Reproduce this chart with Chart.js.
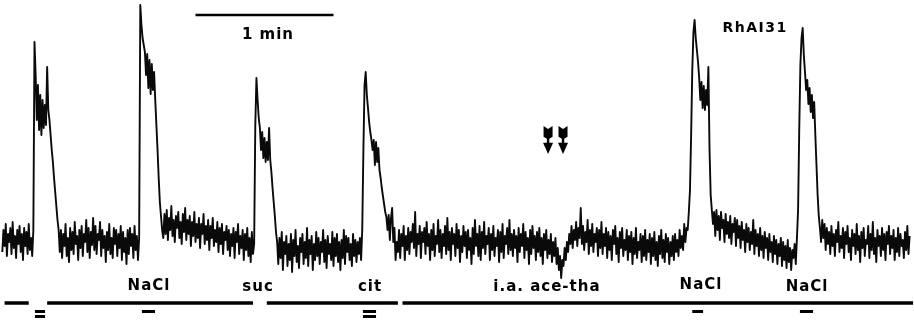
<!DOCTYPE html>
<html>
<head>
<meta charset="utf-8">
<title>RhAI31 - réponse nerveuse</title>
<script src="https://cdn.jsdelivr.net/npm/chart.js@4.4.1/dist/chart.umd.min.js"></script>
<style>
  html, body { margin: 0; padding: 0; background: #fff; }
  #wrap { position: relative; width: 914px; height: 323px; }
</style>
</head>
<body>
<div id="wrap"><canvas id="traceChart"></canvas></div>
<script>
// === DONNEES ===
// trace echantillonnee toutes les 0,5 s, a partir de t = 1 s (unites arbitraires)
const sampleSec = 0.5;
const traceStart = 1;

const restA = [48, 70, 54, 76, 44, 66, 58, 72, 46, 78, 52, 64, 42, 70, 56, 74, 48, 66, 40, 72,
               54, 68, 46, 76, 50, 62, 44, 70];
const nacl1 = [258, 225, 180, 215, 170, 205, 165, 200, 172, 195, 175, 233, 190, 180, 165, 150,
               138, 122, 108, 94, 80, 70];
const restB = [48, 70, 42, 66, 54, 76, 44, 62, 38, 72, 50, 68, 46, 78, 56, 64, 40, 70, 52, 74,
               44, 66, 58, 80, 48, 72, 42, 68, 55, 82, 50, 74, 46, 66, 60, 78, 44, 70, 52, 64,
               38, 68, 50, 76, 46, 62, 42, 72, 56, 70, 44, 66, 52, 74, 40, 68, 48, 62, 36, 70,
               46, 72, 54, 66, 42, 74, 50, 64, 40, 62];
const nacl2 = [295, 275, 262, 255, 248, 225, 246, 212, 240, 206, 236, 210, 228, 200, 175, 150,
               122, 98, 84, 70];
const restC = [62, 86, 66, 90, 60, 82, 70, 94, 64, 80, 58, 84, 72, 88, 62, 78, 56, 86, 68, 92,
               60, 80, 66, 84, 54, 78, 64, 88, 58, 76, 62, 82, 52, 76, 66, 86, 56, 74, 60, 80,
               50, 74, 62, 82, 54, 70, 58, 78, 48, 72, 56, 76, 46, 68, 60, 74, 50, 70, 44, 66,
               54, 72, 42, 68, 58, 76, 46, 64, 52, 70, 40, 66, 50, 72, 44, 62, 38, 68, 46, 56];
const suc = [175, 222, 200, 182, 172, 150, 168, 142, 162, 138, 158, 140, 172, 140, 128, 112,
             98, 84, 68, 58];
const restD = [36, 62, 42, 68, 30, 58, 46, 64, 34, 56, 40, 66, 28, 60, 44, 70, 38, 54, 32, 62,
               48, 66, 36, 58, 42, 72, 34, 60, 46, 64, 30, 56, 40, 68, 44, 62, 36, 58, 48, 70,
               38, 60, 32, 64, 46, 56, 40, 68, 34, 62, 44, 66, 38, 58, 30, 60, 42, 70, 36, 64,
               48, 62, 40, 56, 34, 66, 44, 60, 38, 58, 46, 62, 40, 70];
const cit = [150, 215, 228, 205, 192, 178, 168, 160, 150, 160, 135, 158, 138, 152, 130, 122,
             112, 104, 96, 88, 83, 70, 85, 60, 82, 92, 58, 72, 40, 58];
const restE = [48, 70, 42, 66, 54, 74, 40, 64, 50, 72, 46, 68, 58, 76, 52, 88, 44, 66, 56, 74,
               42, 68, 58, 72, 46, 78, 54, 66, 40, 70, 50, 76, 44, 64, 56, 80, 48, 70, 42, 66,
               54, 74, 46, 82, 50, 68, 40, 72, 56, 66, 44, 76, 52, 70, 38, 64, 48, 74, 54, 68,
               42, 70, 50, 62, 36, 72, 46, 80, 54, 66, 44, 74, 40, 68, 52, 78, 46, 64, 56, 72,
               40, 66, 50, 74, 44, 62, 54, 70, 38, 68, 48, 76, 42, 64, 56, 72, 46, 80, 50, 66,
               44, 70, 52, 64, 38, 72, 48, 66, 54, 76, 42, 68, 50, 62, 36, 70, 46, 74, 52, 64,
               40, 68, 48, 72, 44, 62, 36, 66, 50, 70, 42, 60, 46, 66, 38, 58, 44, 62, 36, 52,
               30, 44, 22, 40, 34, 52, 40, 58, 48, 66, 56, 74, 52, 70, 60, 78, 54, 72, 62, 92,
               56, 74, 50, 68, 58, 80, 46, 70, 54, 76, 48, 66, 58, 72, 44, 70, 52, 78, 46, 66,
               54, 72, 42, 68, 50, 64, 40, 70, 56, 74, 46, 62, 38, 68, 52, 72, 44, 60, 50, 70,
               40, 64, 48, 68, 36, 62, 46, 72, 42, 58, 50, 66, 38, 64, 44, 70, 40, 60, 48, 66,
               36, 62, 44, 68, 40, 58, 34, 64, 46, 70, 42, 60, 38, 66, 48, 62, 36, 58, 44, 64,
               40, 66, 48, 60, 44, 70, 52, 64, 50, 76, 58, 72, 70, 88];
const nacl3 = [110, 165, 230, 268, 280, 262, 250, 238, 222, 200, 218, 192, 214, 190, 210, 195,
               233, 150, 105, 90, 76, 88];
const restF = [64, 90, 70, 84, 60, 88, 72, 80, 58, 86, 66, 78, 62, 84, 56, 76, 68, 82, 54, 80,
               62, 74, 52, 78, 60, 70, 48, 76, 58, 72, 50, 68, 56, 80, 46, 70, 54, 66, 44, 72,
               50, 64, 42, 68, 52, 62, 40, 66, 48, 58, 38, 64, 46, 60, 36, 56, 44, 62, 34, 58,
               40, 54, 32, 60, 38, 52, 30, 50, 42, 56, 36, 62];
const nacl4 = [90, 170, 235, 262, 272, 245, 228, 210, 220, 196, 212, 188, 205, 182, 198, 165,
               135, 105, 84, 72];
const restG = [58, 80, 62, 76, 50, 72, 56, 68, 46, 74, 54, 66, 44, 70, 58, 78, 48, 64, 52, 72,
               42, 68, 56, 74, 48, 62, 40, 70, 54, 66, 46, 76, 50, 64, 38, 68, 52, 72, 44, 60,
               56, 74, 42, 66, 50, 78, 46, 62, 38, 70, 54, 64, 44, 72, 50, 66, 40, 68, 56, 74,
               46, 64, 52, 70, 40, 62, 48, 72, 44, 66, 54, 60, 42, 68, 50, 74, 46, 64];

// barre de stimulation (debut / fin en s)
const barStarts = [2, 20.5, 116, 175];
const barEnds = [12.5, 110, 173, 397];
const barLevel = -3;

// petites marques sous la barre
const markStarts = [15.2, 61.7, 157.8, 301, 347.8];
const markEnds = [19.6, 67.4, 163.5, 305.7, 353.5];
const markCounts = [2, 1, 2, 1, 1];
const markLevels = [-11.5, -16.5];

// etiquettes des stimuli
const stimLabels = ['NaCl', 'suc', 'cit', 'i.a. ace-tha', 'NaCl', 'NaCl'];
const stimLabelTimes = [64.8, 112.2, 160.9, 237.8, 304.8, 350.9];
const stimLabelLevels = [14, 13, 13, 13, 15, 13];

// echelle de temps
const scaleBarStart = 85;
const scaleBarEnd = 145;
const scaleBarLevel = 285;
const scaleBarText = '1 min';
const scaleBarTextTime = 116.5;
const scaleBarTextLevel = 265;

const titleText = 'RhAI31';
const titleTime = 328.3;
const titleLevel = 272;

// fleches (injection)
const arrowTimes = [238.3, 244.8];
const arrowTop = 174;
const arrowBottom = 146;

// === CONSTRUCTION ===
const traceValues = [].concat(restA, nacl1, restB, nacl2, restC, suc, restD, cit,
                              restE, nacl3, restF, nacl4, restG);
const tracePoints = traceValues.map((v, i) => ({ x: traceStart + i * sampleSec, y: v }));

const barPoints = [];
barStarts.forEach((s, i) => {
  barPoints.push({ x: s, y: barLevel }, { x: barEnds[i], y: barLevel }, { x: barEnds[i], y: null });
});

const markPoints = [];
markStarts.forEach((s, i) => {
  for (let r = 0; r < markCounts[i]; r++) {
    markPoints.push({ x: s, y: markLevels[r] }, { x: markEnds[i], y: markLevels[r] }, { x: markEnds[i], y: null });
  }
});

function drawArrow(ctx, x, yTop, yBottom) {
  const h = yBottom - yTop;
  // empennage
  ctx.beginPath();
  ctx.moveTo(x - 4.5, yTop);
  ctx.lineTo(x, yTop + 3);
  ctx.lineTo(x + 4.5, yTop);
  ctx.lineTo(x + 4.5, yTop + h * 0.38);
  ctx.lineTo(x, yTop + h * 0.48);
  ctx.lineTo(x - 4.5, yTop + h * 0.38);
  ctx.closePath();
  ctx.fill();
  // tige
  ctx.fillRect(x - 1.2, yTop + h * 0.3, 2.4, h * 0.4);
  // pointe
  ctx.beginPath();
  ctx.moveTo(x - 5, yTop + h * 0.6);
  ctx.lineTo(x + 5, yTop + h * 0.6);
  ctx.lineTo(x, yBottom);
  ctx.closePath();
  ctx.fill();
}

const annotationsPlugin = {
  id: 'annotations',
  afterDatasetsDraw(chart) {
    const ctx = chart.ctx;
    const xs = chart.scales.x;
    const ys = chart.scales.y;
    ctx.save();
    ctx.fillStyle = '#000';
    ctx.strokeStyle = '#000';
    ctx.font = 'bold 15px "DejaVu Sans", sans-serif';
    ctx.letterSpacing = '1px';
    ctx.textAlign = 'center';
    ctx.textBaseline = 'middle';

    stimLabels.forEach((txt, i) => {
      ctx.fillText(txt, xs.getPixelForValue(stimLabelTimes[i]), ys.getPixelForValue(stimLabelLevels[i]));
    });

    ctx.fillText(scaleBarText, xs.getPixelForValue(scaleBarTextTime), ys.getPixelForValue(scaleBarTextLevel));
    ctx.font = 'bold 14px "DejaVu Sans", sans-serif';
    ctx.letterSpacing = '1.5px';
    ctx.fillText(titleText, xs.getPixelForValue(titleTime), ys.getPixelForValue(titleLevel));

    // barre 1 min
    ctx.lineWidth = 2.5;
    ctx.beginPath();
    ctx.moveTo(xs.getPixelForValue(scaleBarStart), ys.getPixelForValue(scaleBarLevel));
    ctx.lineTo(xs.getPixelForValue(scaleBarEnd), ys.getPixelForValue(scaleBarLevel));
    ctx.stroke();

    arrowTimes.forEach(t => {
      drawArrow(ctx, xs.getPixelForValue(t), ys.getPixelForValue(arrowTop), ys.getPixelForValue(arrowBottom));
    });
    ctx.restore();
  }
};

const chart = new Chart(document.getElementById('traceChart').getContext('2d'), {
  type: 'line',
  data: {
    datasets: [
      {
        label: 'trace',
        data: tracePoints,
        borderColor: '#0a0a0a',
        borderWidth: 1.9,
        borderJoinStyle: 'round',
        pointRadius: 0,
        tension: 0
      },
      {
        label: 'stimulation',
        data: barPoints,
        borderColor: '#000',
        borderWidth: 3.5,
        pointRadius: 0,
        spanGaps: false
      },
      {
        label: 'marques',
        data: markPoints,
        borderColor: '#000',
        borderWidth: 3,
        pointRadius: 0,
        spanGaps: false
      }
    ]
  },
  options: {
    responsive: true,
    maintainAspectRatio: false,
    animation: false,
    layout: { padding: 0 },
    plugins: {
      legend: { display: false },
      tooltip: { enabled: false }
    },
    scales: {
      x: { type: 'linear', min: 0, max: 397.4, display: false },
      y: { min: -23, max: 300, display: false }
    }
  },
  plugins: [annotationsPlugin]
});
</script>
</body>
</html>
